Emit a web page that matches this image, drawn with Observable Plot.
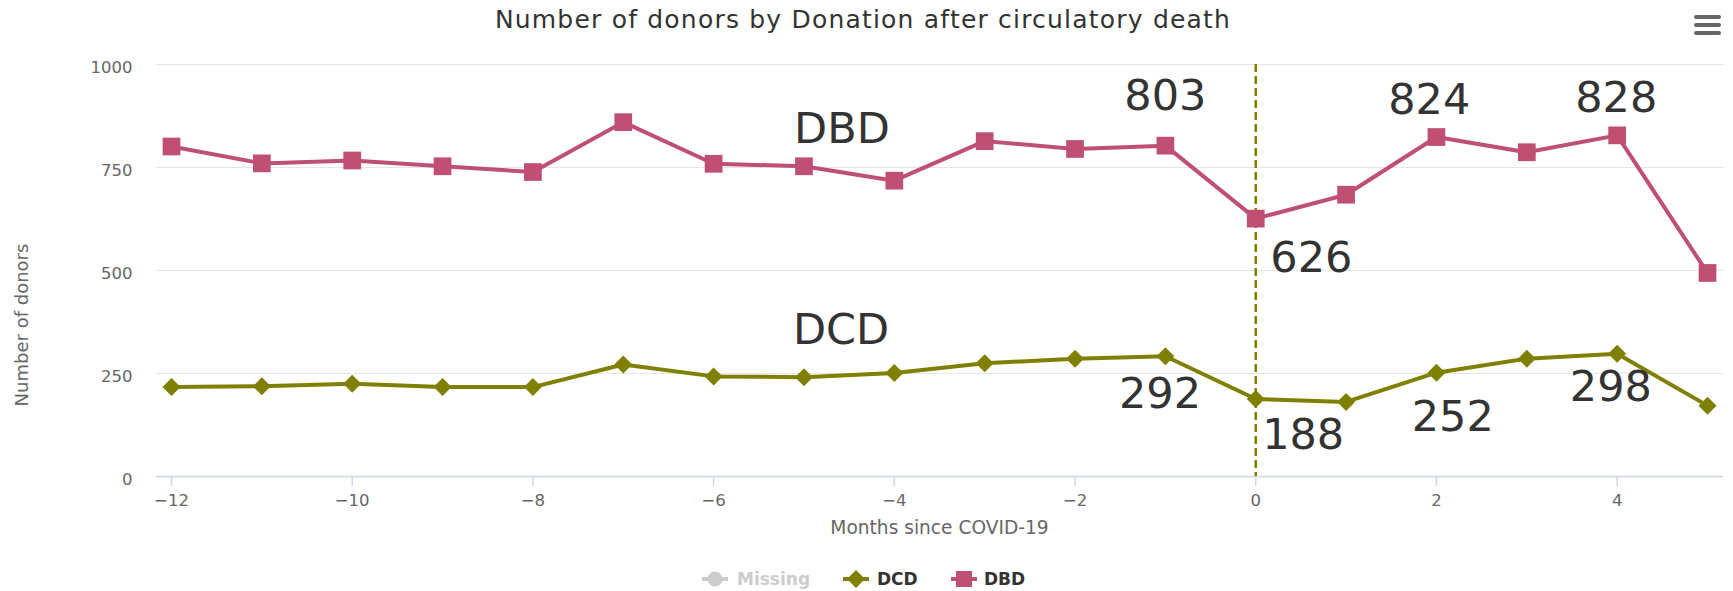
<!DOCTYPE html>
<html>
<head>
<meta charset="utf-8">
<script src="https://cdn.jsdelivr.net/npm/d3@7"></script>
<script src="https://cdn.jsdelivr.net/npm/@observablehq/plot@0.6"></script>
<style>
  body { margin: 0; background: #fff; font-family: "DejaVu Sans", sans-serif; }
  #wrap { position: relative; width: 1733px; height: 591px; overflow: hidden; }
  #chart { position: absolute; left: 0; top: 0; }
  .abs { position: absolute; line-height: 1; white-space: nowrap; }
  #title { left: 0; width: 1726px; text-align: center; top: 7px; font-size: 25px; letter-spacing: 1.2px; color: #333; }
  #ytitle { left: 22px; top: 325px; font-size: 18px; color: #666; transform: translate(-50%, -50%) rotate(-90deg); }
  #xtitle { left: 0; width: 1879px; text-align: center; top: 519px; font-size: 18.6px; color: #666; }
  .leg { top: 571px; font-size: 17px; font-weight: bold; color: #333; }
  .sym { position: absolute; top: 571px; }
  .bar { position: absolute; left: 1694px; width: 27px; height: 4px; border-radius: 2px; background: #666; }
</style>
</head>
<body>
<div id="wrap">
  <div id="chart"></div>
  <div id="title" class="abs">Number of donors by Donation after circulatory death</div>
  <div class="bar" style="top:15px"></div>
  <div class="bar" style="top:23px"></div>
  <div class="bar" style="top:31px"></div>
  <div id="ytitle" class="abs">Number of donors</div>
  <div id="xtitle" class="abs">Months since COVID-19</div>
  <div id="legend"></div>
</div>
<script>
// ---- data ----
const months = [-12, -11, -10, -9, -8, -7, -6, -5, -4, -3, -2, -1, 0, 1, 2, 3, 4, 5];
const dbd = [801, 760, 767, 753, 739, 860, 759, 753, 718, 814, 795, 803, 626, 684, 824, 787, 828, 494];
const dcd = [217, 219, 225, 217, 217, 272, 243, 241, 251, 275, 286, 292, 188, 181, 252, 286, 298, 172];
const xTicks = [-12, -10, -8, -6, -4, -2, 0, 2, 4];
const yTicks = [0, 250, 500, 750, 1000];
const covidMonth = [0];
const seriesNames = ["Missing", "DCD", "DBD"];
const labelText = ["DBD", "DCD", "803", "626", "824", "828", "292", "188", "252", "298"];
const labelX = [-4.58, -4.59, -1.0, 0.615, 1.92, 3.99, -1.06, 0.525, 2.18, 3.93];
const labelY = [842, 356, 922, 530, 913, 918, 199, 99.5, 144, 217];

// ---- styles ----
const colors = { Missing: "#cccccc", DCD: "#808000", DBD: "#bf5073" };

const table = months.map((m, i) => ({ month: m, dbd: dbd[i], dcd: dcd[i] }));
const labels = labelText.map((t, i) => ({ text: t, x: labelX[i], y: labelY[i] }));

const plot = Plot.plot({
  width: 1733,
  height: 591,
  marginTop: 64,
  marginBottom: 115,
  marginLeft: 156,
  marginRight: 10,
  style: { fontFamily: "DejaVu Sans", background: "transparent", overflow: "visible" },
  x: { domain: [-12.166, 5.177] },
  y: { domain: [0, 1000] },
  marks: [
    Plot.gridY(yTicks, { stroke: "#e6e6e6", strokeOpacity: 1, strokeWidth: 1 }),
    Plot.axisY(yTicks, { tickSize: 0, tickPadding: 24, fill: "#666", fontSize: 16.5, dy: 3.5, label: null, tickFormat: d => String(d) }),
    Plot.ruleY([0], { stroke: "#ccd6eb", strokeWidth: 1.5 }),
    Plot.axisX(xTicks, { tickSize: 10, tickPadding: 8, stroke: "#ccd6eb", strokeOpacity: 1, strokeWidth: 1.5, fill: "#666", fontSize: 16.5, label: null }),
    Plot.ruleX(covidMonth, { stroke: colors.DCD, strokeWidth: 2.5, strokeDasharray: "8,4" }),
    Plot.line(table, { x: "month", y: "dcd", stroke: colors.DCD, strokeWidth: 4 }),
    Plot.dot(table, { x: "month", y: "dcd", symbol: "diamond2", r: 8.1, fill: colors.DCD, stroke: null }),
    Plot.line(table, { x: "month", y: "dbd", stroke: colors.DBD, strokeWidth: 4 }),
    Plot.dot(table, { x: "month", y: "dbd", symbol: "square", r: 10, fill: colors.DBD, stroke: null }),
    Plot.text(labels, { x: "x", y: "y", text: "text", fontSize: 43, fill: "#333", textAnchor: "middle", lineAnchor: "middle" })
  ]
});
document.getElementById("chart").appendChild(plot);

// ---- legend ----
const legendItems = [
  { name: seriesNames[0], symLeft: 702, textLeft: 737, shape: "circle", text: "#cccccc" },
  { name: seriesNames[1], symLeft: 843, textLeft: 877, shape: "diamond", text: "#333" },
  { name: seriesNames[2], symLeft: 951, textLeft: 984, shape: "square", text: "#333" }
];
const legend = document.getElementById("legend");
for (const it of legendItems) {
  const c = colors[it.name];
  let shape = "";
  if (it.shape === "circle") shape = `<circle cx="13" cy="8" r="7.5" fill="${c}"/>`;
  if (it.shape === "diamond") shape = `<polygon points="13,-1 22,8 13,17 4,8" fill="${c}"/>`;
  if (it.shape === "square") shape = `<rect x="5" y="0" width="16" height="16" fill="${c}"/>`;
  const sym = document.createElement("div");
  sym.className = "sym";
  sym.style.left = it.symLeft + "px";
  sym.innerHTML = `<svg width="26" height="16" style="overflow:visible"><line x1="0" x2="26" y1="8" y2="8" stroke="${c}" stroke-width="4"/>${shape}</svg>`;
  legend.appendChild(sym);
  const t = document.createElement("div");
  t.className = "abs leg";
  t.style.left = it.textLeft + "px";
  t.style.color = it.text;
  t.textContent = it.name;
  legend.appendChild(t);
}
</script>
</body>
</html>
